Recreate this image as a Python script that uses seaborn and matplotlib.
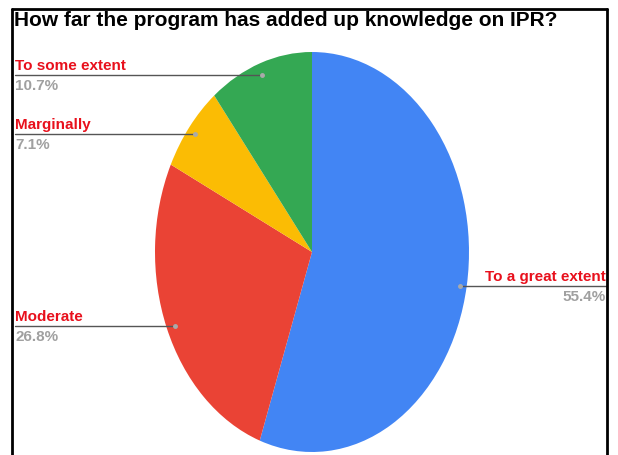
import matplotlib
matplotlib.use('Agg')
import matplotlib.pyplot as plt
import seaborn as sns
from matplotlib.lines import Line2D

sns.set_theme(style='white')
plt.rcParams['font.family'] = ['Liberation Sans', 'DejaVu Sans']

# ── data ─────────────────────────────────────────────────────────────────────
title = 'How far the program has added up knowledge on IPR?'
labels = ['To a great extent', 'Moderate', 'Marginally', 'To some extent']
values = [55.4, 26.8, 7.1, 10.7]
colors = ['#4285f4', '#ea4335', '#fbbc04', '#34a853']

W, H = 618, 456
cx, cy = 312, 253        # pie centre in pixels
rx, ry = 157, 200        # the source image was stretched vertically

fig = plt.figure(figsize=(W / 100, H / 100), dpi=100)
ax = fig.add_axes([0, 0, 1, 1])
ax.pie(values, colors=colors, startangle=90, counterclock=False,
       wedgeprops=dict(linewidth=0))
ax.set_aspect('auto')
ax.set_xlim(-cx / rx, (W - cx) / rx)
ax.set_ylim(-(H - cy) / ry, cy / ry)
ax.axis('off')

# pixel -> data helpers
def px(x):
    return (x - cx) / rx

def py(y):
    return (cy - y) / ry

# ── leader labels (Google-chart style) ──────────────────────────────────────
# (name, percent, line y, dot x, side)
leaders = [
    (labels[3], values[3], 76, 262, 'left'),
    (labels[2], values[2], 135, 195, 'left'),
    (labels[1], values[1], 327, 175, 'left'),
    (labels[0], values[0], 287, 460, 'right'),
]
for name, pct, ly, dx, side in leaders:
    if side == 'left':
        x0, x1, tx, ha = 15, dx, 15, 'left'
    else:
        x0, x1, tx, ha = dx, 607, 606, 'right'
    ax.plot([px(x0), px(x1)], [py(ly), py(ly)], color='#555555', lw=1)
    ax.plot([px(dx)], [py(ly)], 'o', color='#aaaaaa', ms=2.5)
    ax.text(px(tx), py(ly - 3), name, color='#e8101c', fontsize=11,
            fontweight='bold', ha=ha, va='bottom')
    ax.text(px(tx), py(ly + 3), f'{pct}%', color='#a0a0a0', fontsize=11,
            fontweight='bold', ha=ha, va='top')

# ── frame + title ────────────────────────────────────────────────────────────
for xs, ys in [([12, 12], [10, 456]), ([12, 607], [10, 10]), ([607, 607], [10, 456])]:
    fig.add_artist(Line2D([x / W for x in xs], [1 - y / H for y in ys],
                          color='black', lw=2))

fig.text(14 / W, 1 - 21 / H, title, fontsize=15, fontweight='bold',
         color='black', ha='left', va='center')

fig.savefig('out.png', dpi=100)
